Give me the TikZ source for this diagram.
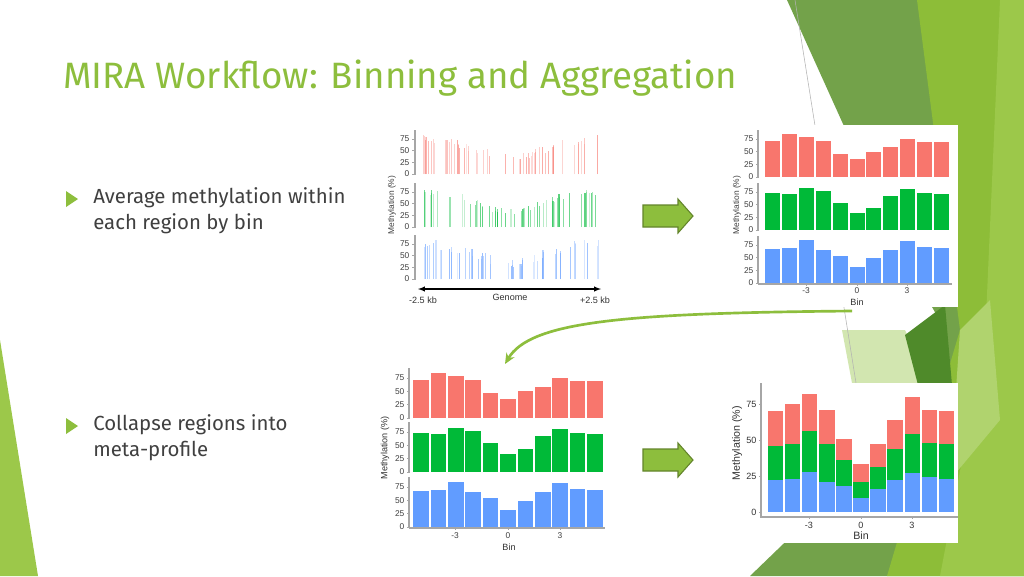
\documentclass[tikz,border=0pt]{standalone}
\usepackage{fontspec}
\usetikzlibrary{arrows.meta}
\setmainfont{Fira Sans}
\newfontfamily\chartfont{Liberation Sans}
\definecolor{ttl}{HTML}{8DBE3D}
\definecolor{bodyc}{HTML}{404040}
\definecolor{rr}{HTML}{F8766D}
\definecolor{gg}{HTML}{00BA38}
\definecolor{bb}{HTML}{619CFF}
\definecolor{g1}{HTML}{73A24A}
\definecolor{g2}{HTML}{8DBD38}
\definecolor{g3}{HTML}{9CC84A}
\definecolor{g4}{HTML}{4F8A2A}
\definecolor{g5}{HTML}{D2E6B0}
\tikzset{
  axisl/.style={draw=gray!70,line width=0.8},
  tlab/.style={font=\chartfont\fontsize{6.3}{7}\selectfont,text=black!75,inner sep=1pt},
  blab/.style={font=\chartfont\fontsize{6.8}{7.5}\selectfont,text=black!80,inner sep=1pt},
  bullettxt/.style={font=\fontsize{15.3}{20}\selectfont,text=bodyc,align=left,anchor=north west,inner sep=0pt},
  blockarrow/.style={fill=ttl,draw=ttl!70!black,line width=0.8},
}
% xc, pitch, width, zeroY, scale, colour, values
\newcommand\barsrow[7]{\foreach \v [count=\i] in {#7}{\fill[#6] ({#1+#2*(\i-6)-#3/2},#4) rectangle ++(#3,{-#5*\v});}}
\newcommand\ytix[4]{\foreach \t in {0,25,50,75}{\node[tlab,anchor=east] at (#1,{#2-#3*\t}) {\t};\draw[gray!70] (#1+1,{#2-#3*\t}) -- (#4,{#2-#3*\t});}}
\begin{document}
\begin{tikzpicture}[x=0.75pt,y=-0.75pt]
\useasboundingbox (0,0) rectangle (1024,576);
\fill[white] (0,0) rectangle (1024,576);
% background decoration
\fill[g1] (787,0) -- (1024,0) -- (1024,576) -- (750,576) -- (860,470) -- (945,330) -- (900,250) -- cycle;
\fill[g2] (917,0) -- (1024,0) -- (1024,576) -- (887,576) -- (960,330) -- cycle;
\fill[g3] (1000,0) -- (1024,0) -- (1024,576) -- (940,576) -- (985,340) -- cycle;
\fill[g3!80!white] (960,330) -- (990,300) -- (1000,420) -- (950,480) -- cycle;
\fill[g5] (842,330) -- (905,330) -- (930,383) -- (852,383) -- cycle;
\fill[g4] (905,335) -- (945,305) -- (952,385) -- (918,385) -- cycle;
\draw[gray!60,line width=0.4] (795,0) -- (856,383);
\fill[g3] (0,340) -- (38,576) -- (0,576) -- cycle;
% title
\node[anchor=west,text=ttl,font=\fontsize{27.5}{32}\selectfont,inner sep=0pt] (title) at (63,78) {MIRA Workflow: Binning and Aggregation};
% bullets
\fill[ttl] (66,191) -- (78,199) -- (66,207) -- cycle;
\node[bullettxt] (b1) at (93,187) {Average methylation within\\each region by bin};
\fill[ttl] (66,418) -- (78,426) -- (66,434) -- cycle;
\node[bullettxt] (b2) at (93,414) {Collapse regions into\\meta-profile};
% ---------- chart 1 : raw ----------
\fill[white] (383,127) rectangle (620,308);
\pgfmathsetseed{11}
\foreach \z/\col in {174/rr,227/gg,279/bb}{
  \foreach \k in {1,...,55}{
    \pgfmathsetmacro\xx{423+177*rnd}
    \pgfmathsetmacro\hh{min(88,max(8,76-40*exp(-((\xx-510)/45)^2)+20*(rnd-0.5)))}
    \pgfmathsetmacro\op{0.2+0.45*rnd}
    \draw[\col,opacity=\op,line width=0.8] (\xx,\z) -- ++(0,{-\hh*35/75});
  }
  \ytix{411}{\z}{0.4667}{414}
  \draw[axisl] (415,\z-44) -- (415,\z+1);
}
\node[tlab,rotate=90] (yl1) at (392,205) {Methylation (\%)};
\coordinate (ga) at (418,289); \coordinate (gb) at (601,289);
\draw[black,line width=0.8,{latex}-{latex}] (ga) -- (gb);
\node[blab] (k1) at (423,300) {-2.5 kb};
\node[blab] (k2) at (510,297) {Genome};
\node[blab] (k3) at (595,300) {+2.5 kb};
% ---------- chart 2 : binned (top right) ----------
\fill[white] (725,125) rectangle (958,307);
\barsrow{857}{16.9}{15}{177}{0.5067}{rr}{72,84,79,72,46,36,50,59,75,70,70}
\barsrow{857}{16.9}{15}{230}{0.5067}{gg}{73,72,83,77,54,33,44,67,80,73,72}
\barsrow{857}{16.9}{15}{283}{0.5067}{bb}{67,70,85,66,54,31,49,66,82,72,69}
\foreach \z in {177,230,283}{\ytix{755}{\z}{0.5067}{758}\draw[axisl] (758,\z-47) -- (758,\z+1);}
\draw[axisl] (758,284) -- (952,284);
\foreach \t/\x in {-3/806,0/857,3/907}{\draw[gray!70] (\x,284) -- (\x,286);\node[tlab] at (\x,291) {\t};}
\node[blab] (bin2) at (857,302) {Bin};
\node[tlab,rotate=90] (yl2) at (737,205) {Methylation (\%)};
% ---------- chart 3 : binned (bottom left) ----------
\fill[white] (372,370) rectangle (612,557);
\barsrow{508}{17.4}{15.5}{418}{0.5333}{rr}{72,84,79,72,46,36,50,59,75,70,70}
\barsrow{508}{17.4}{15.5}{472}{0.5333}{gg}{73,72,83,77,54,33,44,67,80,73,72}
\barsrow{508}{17.4}{15.5}{527}{0.5333}{bb}{67,70,85,66,54,31,49,66,82,72,69}
\foreach \z in {418,472,527}{\ytix{406}{\z}{0.5333}{409}\draw[axisl] (409,\z-50) -- (409,\z+1);}
\draw[axisl] (409,528) -- (605,528);
\foreach \t/\x in {-3/455,0/508,3/560}{\draw[gray!70] (\x,528) -- (\x,530);\node[tlab] at (\x,536) {\t};}
\node[blab] (bin3) at (509,547) {Bin};
\node[blab,rotate=90] (yl3) at (385,448) {Methylation (\%)};
% ---------- chart 4 : stacked ----------
\fill[white] (728,383) rectangle (958,543);
\barsrow{861}{17.1}{15.5}{512}{1.44}{rr}{70,75,82,71,51,33,47,64,80,71,70}
\barsrow{861}{17.1}{15.5}{512}{1.44}{gg}{46,47,56,47,36,21,31,44,54,48,47}
\barsrow{861}{17.1}{15.5}{512}{1.44}{bb}{22,23,28,21,18,10,16,22,27,24,23}
\foreach \t in {0,25,50,75}{\node[blab,anchor=east] at (758,{512-1.44*\t}) {\t};\draw[gray!70] (759,{512-1.44*\t}) -- (761,{512-1.44*\t});}
\draw[axisl] (761,383) -- (761,517) -- (958,517);
\foreach \t/\x in {-3/809,0/861,3/912}{\draw[gray!70] (\x,517) -- (\x,519);\node[blab] at (\x,525) {\t};}
\node[font=\chartfont\fontsize{8}{9}\selectfont,text=black!80,inner sep=1pt] (bin4) at (861,536) {Bin};
\node[font=\chartfont\fontsize{8}{9}\selectfont,text=black!80,inner sep=1pt,rotate=90] (yl4) at (737,443) {Methylation (\%)};
% ---------- arrows ----------
\draw[blockarrow] (643,205) -- (678,205) -- (678,199) -- (693,216) -- (678,233) -- (678,227) -- (643,227) -- cycle;
\draw[blockarrow] (643,449) -- (678,449) -- (678,443) -- (693,460) -- (678,477) -- (678,471) -- (643,471) -- cycle;
\coordinate (cs) at (852,311);
\coordinate (ce) at (505,364);
\draw[ttl,line width=2,-{Stealth[length=8pt,width=7pt]}] (cs) .. controls (620,313) and (530,322) .. (ce);
\end{tikzpicture}
\end{document}
